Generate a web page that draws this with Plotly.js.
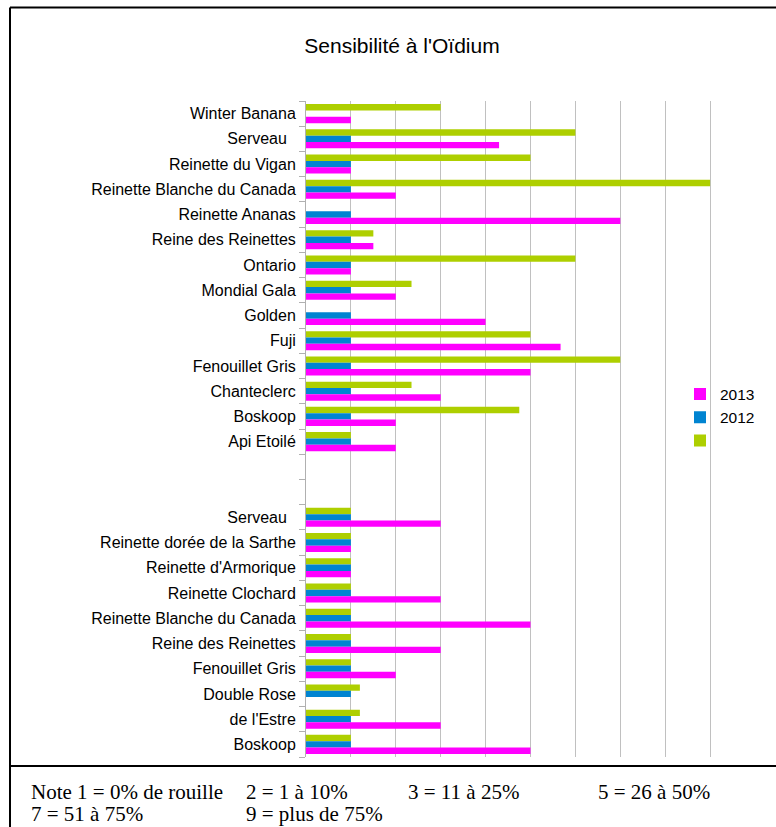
<!DOCTYPE html>
<html>
<head>
<meta charset="utf-8">
<script src="https://cdn.plot.ly/plotly-3.0.1.min.js"></script>
<style>html,body{margin:0;padding:0;background:#fff;}#chart{width:776px;height:827px;}</style>
</head>
<body>
<div id="chart"></div>
<script>
// Category labels, top to bottom
const categories = [
  "Winter Banana", "Serveau\u00a0\u00a0", "Reinette du Vigan", "Reinette Blanche du Canada",
  "Reinette Ananas", "Reine des Reinettes", "Ontario", "Mondial Gala", "Golden", "Fuji",
  "Fenouillet Gris", "Chanteclerc", "Boskoop", "Api Etoilé",
  "", "",
  "Serveau\u00a0\u00a0", "Reinette dorée de la Sarthe", "Reinette d'Armorique", "Reinette Clochard",
  "Reinette Blanche du Canada", "Reine des Reinettes", "Fenouillet Gris", "Double Rose",
  "de l'Estre", "Boskoop"
];
// Series values (note 0-9)
const values2013 = [1, 4.3, 1, 2, 7, 1.5, 1, 2, 4, 5.67, 5, 3, 2, 2,
  null, null,
  3, 1, 1, 3, 5, 3, 2, null, 3, 5];
const values2012 = [null, 1, 1, 1, 1, 1, 1, 1, 1, 1, 1, 1, 1, 1,
  null, null,
  1, 1, 1, 1, 1, 1, 1, 1, 1, 1];
const valuesGreen = [3, 6, 5, 9, null, 1.5, 6, 2.35, null, 5, 7, 2.35, 4.75, 1,
  null, null,
  1, 1, 1, 1, 1, 1, 1, 1.2, 1.2, 1];
const seriesNames = ["2013", "2012", " "];
const noteLines = [
  ["Note 1 = 0% de rouille", "2 = 1 à 10%", "3 = 11 à 25%", "5 = 26 à 50%"],
  ["7 = 51 à 75%", "9 = plus de 75%"]
];

const ids = categories.map((c, i) => "c" + i);

// pixel -> paper helpers
const W = 776, H = 827, L = 306, R = 755, T = 101, B = 757;
const px = x => (x - L) / (R - L);
const py = y => (B - y) / (B - T);

const traces = [
  {name: seriesNames[2], y: ids, x: valuesGreen, marker: {color: "#aecf00"}},
  {name: seriesNames[1], y: ids, x: values2012, marker: {color: "#0084d1"}},
  {name: seriesNames[0], y: ids, x: values2013, marker: {color: "#ff00ff"}}
].map(t => Object.assign({type: "bar", orientation: "h", hoverinfo: "x+name"}, t));

const noteX = [[29, 244, 406, 596], [29, 244]];
const noteY = [792, 814];
const annotations = [];
noteLines.forEach((line, li) => line.forEach((txt, ti) => {
  annotations.push({
    text: txt, xref: "paper", yref: "paper",
    x: px(noteX[li][ti]), y: py(noteY[li]), xanchor: "left", yanchor: "middle",
    showarrow: false,
    font: {family: "Liberation Serif, Times New Roman, serif", size: 21, color: "#000"}
  });
}));

const lineStyle = {color: "#000", width: 2};
const shapes = [
  {type: "line", xref: "paper", yref: "paper", x0: px(10), x1: px(800), y0: py(7.5), y1: py(7.5), line: lineStyle},
  {type: "line", xref: "paper", yref: "paper", x0: px(10), x1: px(10), y0: py(7.5), y1: py(840), line: lineStyle},
  {type: "line", xref: "paper", yref: "paper", x0: px(10), x1: px(800), y0: py(766), y1: py(766), line: lineStyle}
];

const layout = {
  width: W, height: H,
  margin: {l: L, r: W - R, t: T, b: H - B, pad: 0},
  paper_bgcolor: "#fff", plot_bgcolor: "#fff",
  font: {family: "Liberation Sans, Arial, sans-serif", color: "#000"},
  title: {
    text: "Sensibilité à l'Oïdium",
    font: {family: "Liberation Sans, Arial, sans-serif", size: 21, color: "#000"},
    x: 402 / W, xanchor: "center", xref: "container",
    y: 1 - 46 / H, yanchor: "middle", yref: "container"
  },
  barmode: "group", bargap: 0.245, bargroupgap: 0,
  xaxis: {
    range: [0, 10], dtick: 1, tick0: 0,
    showgrid: true, gridcolor: "#c0c0c0", gridwidth: 1,
    showticklabels: false, ticks: "", zeroline: false, showline: false,
    fixedrange: true
  },
  yaxis: {
    type: "category", autorange: "reversed",
    tickmode: "array", tickvals: ids, ticktext: categories,
    tickson: "boundaries", ticks: "outside", ticklen: 6, tickcolor: "#b0b0b0", tickwidth: 1,
    ticklabelstandoff: 6,
    showline: true, linecolor: "#b0b0b0", linewidth: 1,
    showgrid: false, zeroline: false,
    tickfont: {family: "Liberation Sans, Arial, sans-serif", size: 16, color: "#000"},
    fixedrange: true
  },
  showlegend: true,
  legend: {
    x: px(680), xanchor: "left", y: py(417.5), yanchor: "middle",
    traceorder: "reversed", bgcolor: "rgba(0,0,0,0)",
    font: {family: "Liberation Sans, Arial, sans-serif", size: 15.5, color: "#000"}
  },
  annotations: annotations,
  shapes: shapes
};

Plotly.newPlot("chart", traces, layout, {displayModeBar: false, staticPlot: true});
</script>
</body>
</html>
